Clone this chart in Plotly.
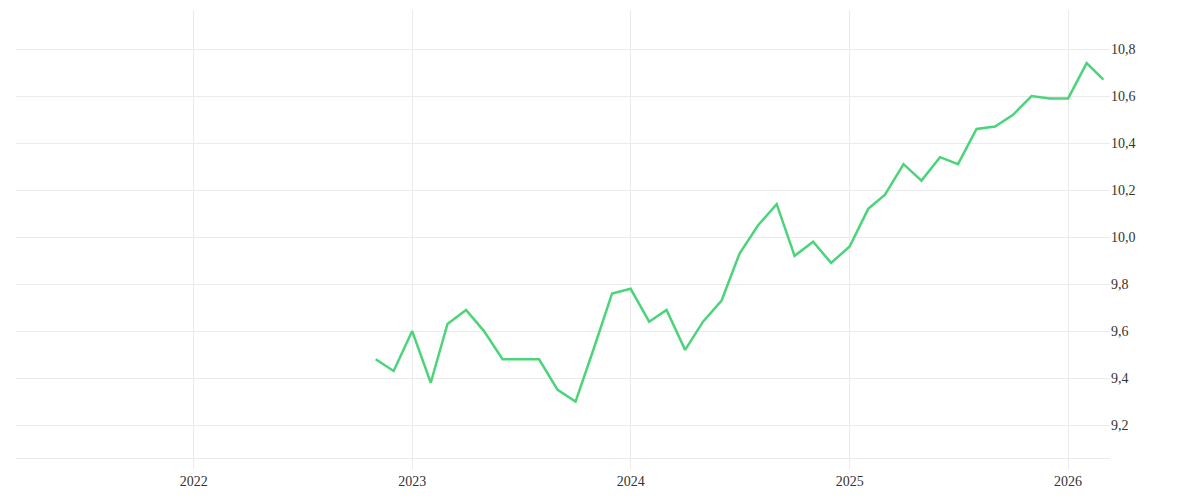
import plotly.graph_objects as go
import pandas as pd

dates = pd.date_range("2022-11-01", "2026-03-01", freq="MS")
values = [9.48, 9.43, 9.60, 9.38, 9.63, 9.69, 9.60, 9.48, 9.48, 9.48, 9.35, 9.30,
          9.53, 9.76, 9.78, 9.64, 9.69, 9.52, 9.64, 9.73, 9.93, 10.05, 10.14, 9.92,
          9.98, 9.89, 9.96, 10.12, 10.18, 10.31, 10.24, 10.34, 10.31, 10.46, 10.47,
          10.52, 10.60, 10.59, 10.59, 10.74, 10.67]
y_ticks = [9.2, 9.4, 9.6, 9.8, 10.0, 10.2, 10.4, 10.6, 10.8]

fig = go.Figure(go.Scatter(x=dates, y=values, mode="lines",
                           line=dict(color="#4cd47b", width=2.5)))
fig.update_layout(
    width=1200, height=500, margin=dict(l=8, r=98, t=2, b=50),
    plot_bgcolor="white", paper_bgcolor="white", showlegend=False,
    separators=",.", font=dict(family="Liberation Serif", size=14, color="#333"),
)
fig.update_xaxes(range=["2021-03-10", "2026-03-12"], showgrid=True, gridcolor="#ebebeb",
                 dtick="M12", tick0="2022-01-01", tickformat="%Y", zeroline=False,
                 ticks="outside", ticklen=10, tickcolor="#ebebeb", showline=True,
                 linecolor="#ebebeb")
fig.update_yaxes(side="right", range=[9.06, 10.966], tickvals=y_ticks,
                 tickformat=".1f", showgrid=True, gridcolor="#ebebeb", zeroline=False)
fig.write_html("out.html")
